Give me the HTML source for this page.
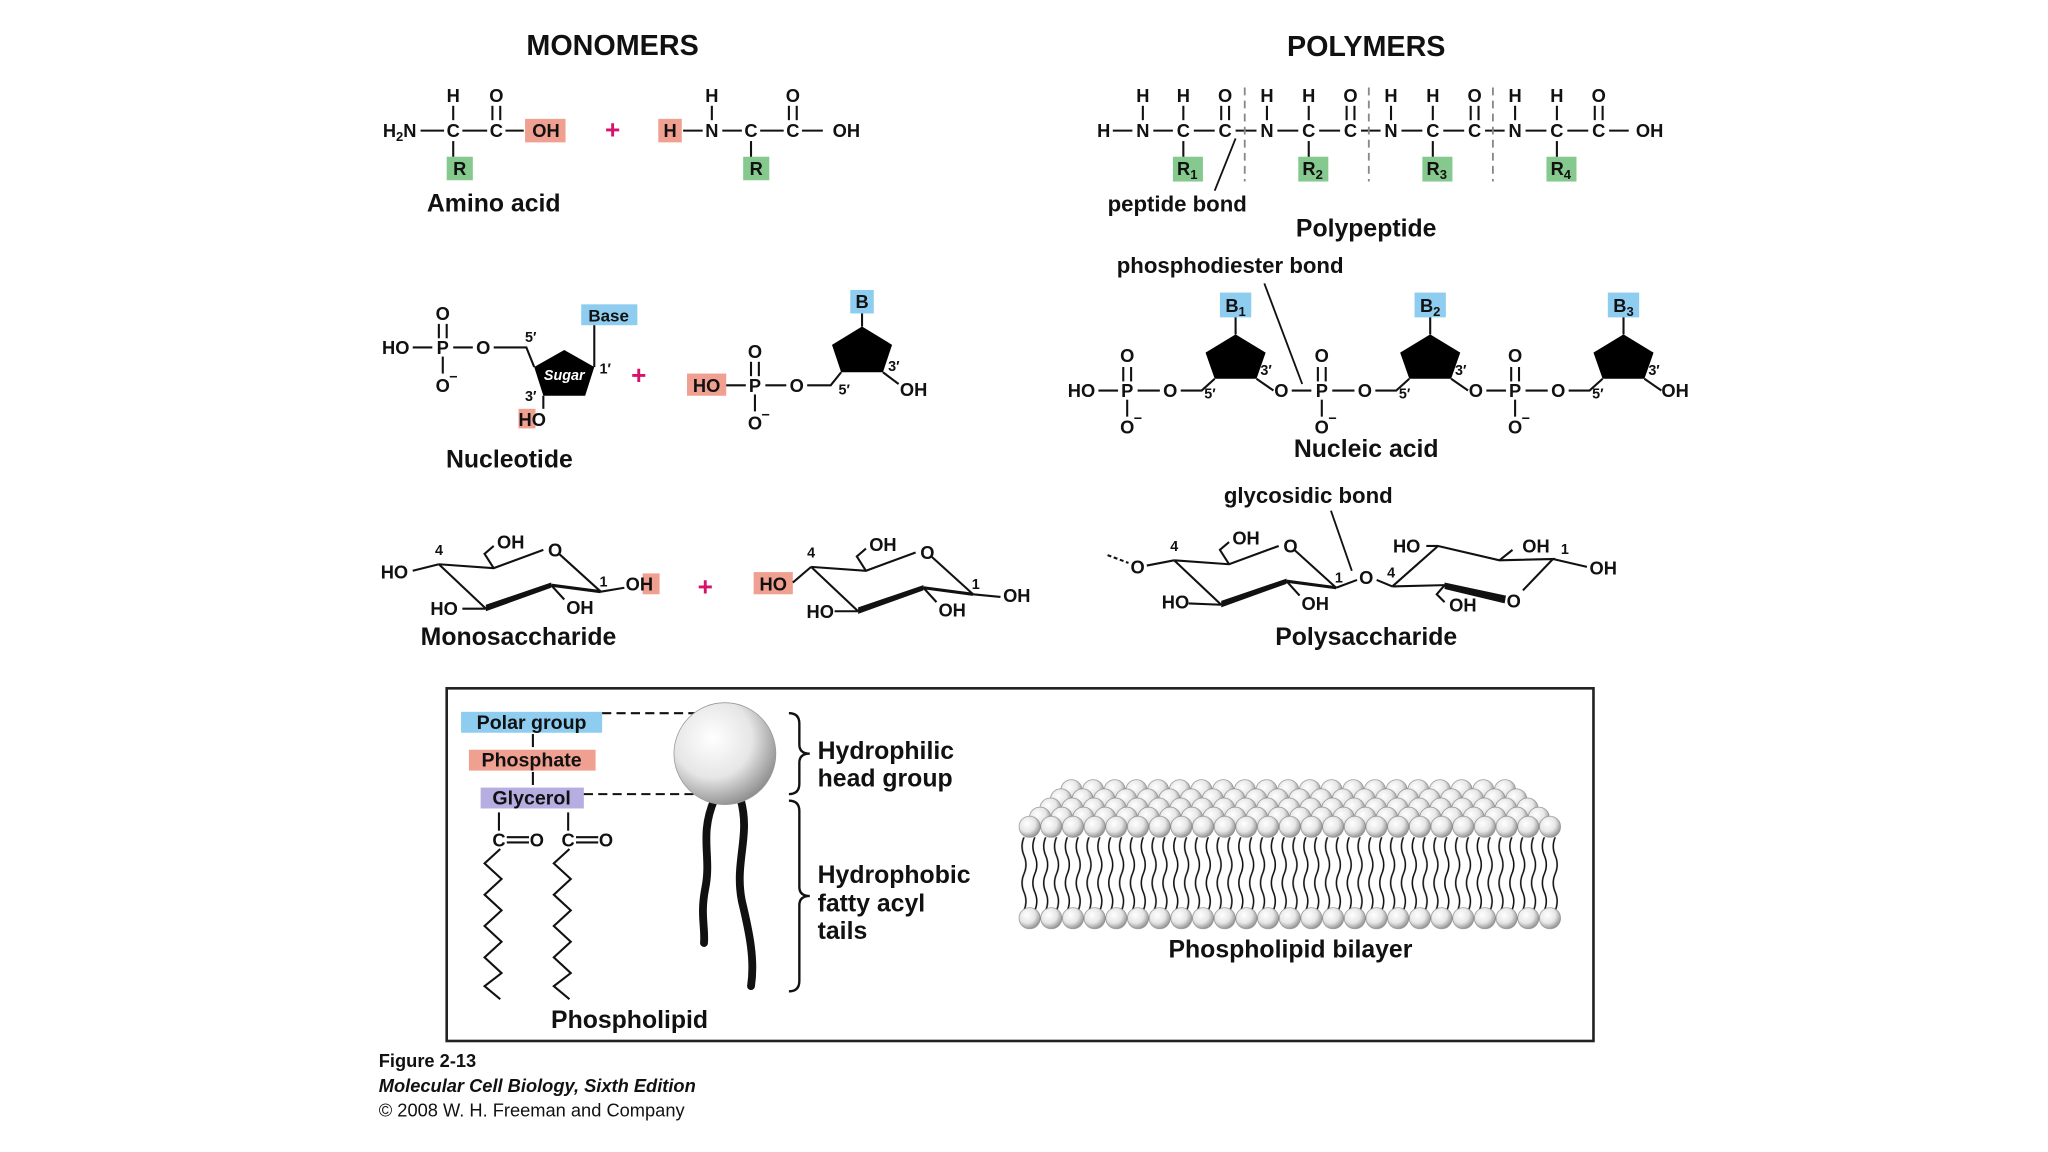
<!DOCTYPE html>
<html><head><meta charset="utf-8">
<style>
html,body{margin:0;padding:0;background:#fff;}
svg{display:block;}
text{font-family:"Liberation Sans",sans-serif;font-weight:bold;fill:#111;}
.a{font-size:14px;text-anchor:middle;}
.s{font-size:11px;}
.lb{font-size:19px;text-anchor:middle;}
.t{font-size:22px;text-anchor:middle;}
</style></head><body>
<svg width="2048" height="1152" viewBox="0 0 1568 882" xmlns="http://www.w3.org/2000/svg">
<defs>
<radialGradient id="ball" cx="0.38" cy="0.35" r="0.7">
<stop offset="0" stop-color="#ffffff"/><stop offset="0.55" stop-color="#e6e6e6"/><stop offset="1" stop-color="#8a8a8a"/>
</radialGradient>
<g id="cell"><circle cx="8.3" cy="8.5" r="8.1" fill="url(#ball)" stroke="#888" stroke-width="0.5"/></g>
<pattern id="r1" width="16.6" height="17" patternUnits="userSpaceOnUse" patternTransform="translate(812,596.5)"><use href="#cell"/></pattern>
<pattern id="r2" width="16.6" height="17" patternUnits="userSpaceOnUse" patternTransform="translate(804,603.5)"><use href="#cell"/></pattern>
<pattern id="r3" width="16.6" height="17" patternUnits="userSpaceOnUse" patternTransform="translate(796,610.5)"><use href="#cell"/></pattern>
<pattern id="r4" width="16.6" height="17" patternUnits="userSpaceOnUse" patternTransform="translate(788,617.5)"><use href="#cell"/></pattern>
<pattern id="r5" width="16.6" height="17" patternUnits="userSpaceOnUse" patternTransform="translate(780,624.5)"><use href="#cell"/></pattern>
<pattern id="r6" width="16.6" height="17" patternUnits="userSpaceOnUse" patternTransform="translate(780,694.5)"><use href="#cell"/></pattern>
<pattern id="tail" width="8.3" height="56" patternUnits="userSpaceOnUse" patternTransform="translate(780,641)">
<path d="M4 0 q-3 7 0 14 t0 14 t0 14 t0 14" fill="none" stroke="#111" stroke-width="1.2"/>
</pattern>
</defs>

<!-- Titles -->
<text class="t" x="469" y="42">MONOMERS</text>
<text class="t" x="1046" y="43">POLYMERS</text>

<!-- Amino acid monomers -->
<rect x="402" y="91" width="31" height="18" fill="#f0a090"/>
<rect x="504" y="91" width="18" height="18" fill="#f0a090"/>
<rect x="342" y="120" width="20" height="18" fill="#86c98e"/>
<rect x="569" y="120" width="20" height="18" fill="#86c98e"/>
<g stroke="#111" stroke-width="1.6">
<line x1="322" y1="100" x2="340" y2="100"/><line x1="354" y1="100" x2="373" y2="100"/><line x1="387" y1="100" x2="401" y2="100"/>
<line x1="347" y1="81" x2="347" y2="92"/><line x1="377" y1="81" x2="377" y2="92"/><line x1="383" y1="81" x2="383" y2="92"/>
<line x1="347" y1="108" x2="347" y2="120"/>
<line x1="523" y1="100" x2="538" y2="100"/><line x1="553" y1="100" x2="568" y2="100"/><line x1="582" y1="100" x2="600" y2="100"/><line x1="614" y1="100" x2="630" y2="100"/>
<line x1="545" y1="81" x2="545" y2="92"/><line x1="604" y1="81" x2="604" y2="92"/><line x1="610" y1="81" x2="610" y2="92"/>
<line x1="575" y1="108" x2="575" y2="120"/>
</g>
<text class="a" x="306" y="105">H<tspan font-size="10" dy="3">2</tspan><tspan dy="-3">N</tspan></text>
<text class="a" x="347" y="105">C</text><text class="a" x="380" y="105">C</text><text class="a" x="418" y="105">OH</text>
<text class="a" x="347" y="78">H</text><text class="a" x="380" y="78">O</text>
<text class="a" x="352" y="134">R</text>
<text class="a" x="469" y="106" style="fill:#d6136b;font-size:20px">+</text>
<text class="a" x="513" y="105">H</text><text class="a" x="545" y="105">N</text><text class="a" x="575" y="105">C</text><text class="a" x="607" y="105">C</text><text class="a" x="648" y="105">OH</text>
<text class="a" x="545" y="78">H</text><text class="a" x="607" y="78">O</text>
<text class="a" x="579" y="134">R</text>
<text class="lb" x="378" y="162">Amino acid</text>

<!-- Polypeptide -->
<g fill="#86c98e"><rect x="898" y="120" width="23" height="19"/><rect x="994" y="120" width="23" height="19"/><rect x="1089" y="120" width="23" height="19"/><rect x="1184" y="120" width="23" height="19"/></g>
<g stroke="#111" stroke-width="1.6">
<line x1="852" y1="100" x2="867" y2="100"/>
<line x1="883" y1="100" x2="898" y2="100"/><line x1="914" y1="100" x2="930" y2="100"/><line x1="946" y1="100" x2="962" y2="100"/>
<line x1="978" y1="100" x2="994" y2="100"/><line x1="1010" y1="100" x2="1026" y2="100"/><line x1="1042" y1="100" x2="1057" y2="100"/>
<line x1="1073" y1="100" x2="1089" y2="100"/><line x1="1105" y1="100" x2="1121" y2="100"/><line x1="1137" y1="100" x2="1152" y2="100"/>
<line x1="1168" y1="100" x2="1184" y2="100"/><line x1="1200" y1="100" x2="1216" y2="100"/><line x1="1232" y1="100" x2="1247" y2="100"/>
<line x1="875" y1="81" x2="875" y2="92"/><line x1="906" y1="81" x2="906" y2="92"/><line x1="935" y1="81" x2="935" y2="92"/><line x1="941" y1="81" x2="941" y2="92"/>
<line x1="970" y1="81" x2="970" y2="92"/><line x1="1002" y1="81" x2="1002" y2="92"/><line x1="1031" y1="81" x2="1031" y2="92"/><line x1="1037" y1="81" x2="1037" y2="92"/>
<line x1="1065" y1="81" x2="1065" y2="92"/><line x1="1097" y1="81" x2="1097" y2="92"/><line x1="1126" y1="81" x2="1126" y2="92"/><line x1="1132" y1="81" x2="1132" y2="92"/>
<line x1="1160" y1="81" x2="1160" y2="92"/><line x1="1192" y1="81" x2="1192" y2="92"/><line x1="1221" y1="81" x2="1221" y2="92"/><line x1="1227" y1="81" x2="1227" y2="92"/>
<line x1="906" y1="108" x2="906" y2="120"/><line x1="1002" y1="108" x2="1002" y2="120"/><line x1="1097" y1="108" x2="1097" y2="120"/><line x1="1192" y1="108" x2="1192" y2="120"/>
<line x1="946" y1="106" x2="930" y2="146" stroke-width="1.4"/>
</g>
<g stroke="#888" stroke-width="1.4" stroke-dasharray="6,4">
<line x1="953" y1="67" x2="953" y2="139"/><line x1="1048" y1="67" x2="1048" y2="139"/><line x1="1143" y1="67" x2="1143" y2="139"/>
</g>
<text class="a" x="845" y="105">H</text>
<text class="a" x="875" y="105">N</text><text class="a" x="906" y="105">C</text><text class="a" x="938" y="105">C</text>
<text class="a" x="970" y="105">N</text><text class="a" x="1002" y="105">C</text><text class="a" x="1034" y="105">C</text>
<text class="a" x="1065" y="105">N</text><text class="a" x="1097" y="105">C</text><text class="a" x="1129" y="105">C</text>
<text class="a" x="1160" y="105">N</text><text class="a" x="1192" y="105">C</text><text class="a" x="1224" y="105">C</text>
<text class="a" x="1263" y="105">OH</text>
<text class="a" x="875" y="78">H</text><text class="a" x="906" y="78">H</text><text class="a" x="938" y="78">O</text>
<text class="a" x="970" y="78">H</text><text class="a" x="1002" y="78">H</text><text class="a" x="1034" y="78">O</text>
<text class="a" x="1065" y="78">H</text><text class="a" x="1097" y="78">H</text><text class="a" x="1129" y="78">O</text>
<text class="a" x="1160" y="78">H</text><text class="a" x="1192" y="78">H</text><text class="a" x="1224" y="78">O</text>
<text class="a" x="909" y="134">R<tspan font-size="10" dy="3">1</tspan></text>
<text class="a" x="1005" y="134">R<tspan font-size="10" dy="3">2</tspan></text>
<text class="a" x="1100" y="134">R<tspan font-size="10" dy="3">3</tspan></text>
<text class="a" x="1195" y="134">R<tspan font-size="10" dy="3">4</tspan></text>
<text x="848" y="162" style="font-size:17px">peptide bond</text>
<text class="lb" x="1046" y="181">Polypeptide</text>

<!-- Nucleotide monomers -->
<rect x="445" y="233" width="43" height="16" fill="#8ecdf0"/>
<rect x="397" y="313" width="13" height="15" fill="#f0a090"/>
<rect x="526" y="286" width="30" height="17" fill="#f0a090"/>
<rect x="651" y="222" width="18" height="18" fill="#8ecdf0"/>
<polygon points="432,268 455,281 448,303 416,303 409,281" fill="#000"/>
<polygon points="660,250 683,264 676,285 644,285 637,264" fill="#000"/>
<g stroke="#111" stroke-width="1.6" fill="none">
<line x1="316" y1="266" x2="331" y2="266"/><line x1="347" y1="266" x2="362" y2="266"/><polyline points="378,266 403,266 409,281"/>
<line x1="336" y1="248" x2="336" y2="259"/><line x1="342" y1="248" x2="342" y2="259"/><line x1="339" y1="273" x2="339" y2="286"/>
<line x1="455" y1="249" x2="455" y2="281"/><line x1="416" y1="303" x2="416" y2="313"/>
<line x1="556" y1="295" x2="571" y2="295"/><line x1="586" y1="295" x2="602" y2="295"/><polyline points="618,295 636,295 644,285"/>
<line x1="575" y1="277" x2="575" y2="288"/><line x1="581" y1="277" x2="581" y2="288"/><line x1="578" y1="302" x2="578" y2="315"/>
<line x1="660" y1="240" x2="660" y2="250"/><line x1="676" y1="285" x2="688" y2="294"/>
</g>
<text class="a" x="303" y="271">HO</text><text class="a" x="339" y="271">P</text><text class="a" x="370" y="271">O</text>
<text class="a" x="339" y="245">O</text><text class="a" x="339" y="300">O</text><text x="344" y="292" class="s">−</text>
<text class="s" x="402" y="262">5′</text><text class="s" x="459" y="286">1′</text><text class="s" x="402" y="307">3′</text>
<text x="432" y="291" style="fill:#fff;font-size:11px;font-style:italic;text-anchor:middle">Sugar</text>
<text class="a" x="466" y="246" style="font-size:13px">Base</text>
<text x="397" y="326" style="font-size:14px">HO</text>
<text class="a" x="489" y="294" style="fill:#d6136b;font-size:20px">+</text>
<text class="a" x="541" y="300">HO</text><text class="a" x="578" y="300">P</text><text class="a" x="610" y="300">O</text>
<text class="a" x="578" y="274">O</text><text class="a" x="578" y="329">O</text><text x="583" y="321" class="s">−</text>
<text class="a" x="660" y="236">B</text>
<text class="s" x="642" y="302">5′</text><text class="s" x="680" y="284">3′</text><text x="689" y="303" style="font-size:14px">OH</text>
<text class="lb" x="390" y="358">Nucleotide</text>

<!-- Nucleic acid -->
<text x="855" y="209" style="font-size:17px">phosphodiester bond</text>
<line x1="968" y1="217" x2="997" y2="294" stroke="#111" stroke-width="1.4"/>
<text class="a" x="828" y="304">HO</text>
<line x1="841" y1="299" x2="856" y2="299" stroke="#111" stroke-width="1.6"/>
<g id="nu">
<rect x="934" y="224" width="24" height="19" fill="#8ecdf0"/>
<polygon points="946,256 969,270 962,290 930,290 923,270" fill="#000"/>
<g stroke="#111" stroke-width="1.6" fill="none">
<line x1="871" y1="299" x2="888" y2="299"/><polyline points="904,299 920,299 930,290"/>
<line x1="860" y1="281" x2="860" y2="292"/><line x1="866" y1="281" x2="866" y2="292"/><line x1="863" y1="306" x2="863" y2="319"/>
<line x1="946" y1="243" x2="946" y2="256"/><line x1="962" y1="290" x2="975" y2="299"/>
</g>
<text class="a" x="863" y="304">P</text><text class="a" x="896" y="304">O</text>
<text class="a" x="863" y="277">O</text><text class="a" x="863" y="332">O</text><text x="868" y="324" class="s">−</text>
<text class="s" x="922" y="305">5′</text><text class="s" x="965" y="287">3′</text>
</g>
<text class="a" x="946" y="239">B<tspan font-size="10" dy="3">1</tspan></text>
<text class="a" x="981" y="304">O</text>
<line x1="989" y1="299" x2="1004" y2="299" stroke="#111" stroke-width="1.6"/>
<use href="#nu" x="149"/>
<text class="a" x="1095" y="239">B<tspan font-size="10" dy="3">2</tspan></text>
<text class="a" x="1130" y="304">O</text>
<line x1="1138" y1="299" x2="1153" y2="299" stroke="#111" stroke-width="1.6"/>
<use href="#nu" x="297"/>
<text class="a" x="1243" y="239">B<tspan font-size="10" dy="3">3</tspan></text>
<text x="1272" y="304" style="font-size:14px">OH</text>
<text class="lb" x="1046" y="350">Nucleic acid</text>

<!-- Monosaccharides -->
<g id="ring">
<g stroke="#111" stroke-width="1.6" fill="none">
<polyline points="336,432 378,435 416,421"/>
<polyline points="428,424 460,453"/>
<line x1="336" y1="432" x2="372" y2="466"/>
<polygon points="372,463 422,446 422,450 372,468" fill="#111" stroke="none"/>
<line x1="422" y1="448" x2="460" y2="453" stroke-width="2.4"/>
<polyline points="378,435 371,424 378,418"/>
<line x1="422" y1="448" x2="432" y2="459"/>
</g>
<text class="a" x="425" y="426">O</text>
<text class="a" x="391" y="420">OH</text>
<text class="a" x="444" y="470">OH</text>
<text class="s" x="333" y="425">4</text>
<text class="s" x="459" y="449">1</text>
</g>
<line x1="316" y1="437" x2="336" y2="432" stroke="#111" stroke-width="1.6"/>
<line x1="354" y1="466" x2="372" y2="466" stroke="#111" stroke-width="1.6"/>
<line x1="460" y1="453" x2="478" y2="450" stroke="#111" stroke-width="1.6"/>
<text class="a" x="302" y="443">HO</text><text class="a" x="340" y="471">HO</text>
<rect x="492" y="439" width="13" height="16" fill="#f0a090"/>
<text x="479" y="452" style="font-size:14px">OH</text>
<text class="a" x="540" y="456" style="fill:#d6136b;font-size:20px">+</text>
<use href="#ring" x="285" y="2"/>
<rect x="577" y="438" width="30" height="17" fill="#f0a090"/>
<text class="a" x="592" y="452">HO</text>
<g stroke="#111" stroke-width="1.6"><line x1="607" y1="446" x2="621" y2="434"/><line x1="639" y1="468" x2="657" y2="468"/><line x1="745" y1="455" x2="766" y2="457"/></g>
<text class="a" x="628" y="473">HO</text><text x="768" y="461" style="font-size:14px">OH</text>
<text class="lb" x="397" y="494">Monosaccharide</text>

<!-- Polysaccharide -->
<text x="937" y="385" style="font-size:17px">glycosidic bond</text>
<line x1="1019" y1="391" x2="1035" y2="437" stroke="#111" stroke-width="1.4"/>
<use href="#ring" x="563" y="-3"/>
<g stroke="#111" stroke-width="1.6" fill="none">
<line x1="848" y1="425" x2="864" y2="431" stroke-dasharray="3,2"/>
<line x1="878" y1="433" x2="899" y2="429"/>
<line x1="910" y1="462" x2="935" y2="463"/>
<line x1="1023" y1="450" x2="1039" y2="444"/>
<line x1="1054" y1="444" x2="1066" y2="449"/>
<polyline points="1066,449 1101,418 1148,429 1189,428 1166,452"/>
<polygon points="1106,446 1153,456 1152,462 1106,451" fill="#111" stroke="none"/>
<line x1="1066" y1="449" x2="1106" y2="448"/>
<line x1="1092" y1="418" x2="1101" y2="418"/>
<line x1="1148" y1="429" x2="1158" y2="421"/>
<line x1="1189" y1="428" x2="1215" y2="434"/>
<polyline points="1106,448 1100,455 1106,461"/>
</g>
<text class="a" x="871" y="439">O</text>
<text class="a" x="900" y="466">HO</text>
<text class="a" x="1046" y="447">O</text>
<text class="s" x="1062" y="442">4</text>
<text class="a" x="1077" y="423">HO</text>
<text class="a" x="1176" y="423">OH</text>
<text class="s" x="1195" y="424">1</text>
<text x="1217" y="440" style="font-size:14px">OH</text>
<text class="a" x="1120" y="468">OH</text>
<text class="a" x="1159" y="465">O</text>
<text class="lb" x="1046" y="494">Polysaccharide</text>

<!-- Phospholipid box -->
<rect x="342" y="527" width="878" height="270" fill="none" stroke="#222" stroke-width="2"/>
<rect x="353" y="545" width="108" height="16" fill="#8ecdf0"/>
<rect x="359" y="574" width="97" height="16" fill="#f0a090"/>
<rect x="368" y="603" width="79" height="16" fill="#b6aee0"/>
<text class="a" x="407" y="558" style="font-size:15px">Polar group</text>
<text class="a" x="407" y="587" style="font-size:15px">Phosphate</text>
<text class="a" x="407" y="616" style="font-size:15px">Glycerol</text>
<g stroke="#111" stroke-width="1.6" fill="none">
<line x1="408" y1="562" x2="408" y2="572"/><line x1="408" y1="591" x2="408" y2="601"/>
<line x1="461" y1="546" x2="538" y2="546" stroke-dasharray="7,4"/>
<line x1="447" y1="608" x2="540" y2="608" stroke-dasharray="7,4"/>
<line x1="382" y1="622" x2="382" y2="636"/><line x1="435" y1="622" x2="435" y2="636"/>
<line x1="388" y1="641" x2="405" y2="641"/><line x1="388" y1="645" x2="405" y2="645"/>
<line x1="441" y1="641" x2="458" y2="641"/><line x1="441" y1="645" x2="458" y2="645"/>
<polyline points="383,650 371,661 384,673 371,685 384,697 371,709 384,721 371,733 384,745 371,755 383,765"/>
<polyline points="436,650 424,661 437,673 424,685 437,697 424,709 437,721 424,733 437,745 424,755 436,765"/>
<path d="M547 612 C 535 640, 545 655, 540 680 C 536 700, 540 710, 539 722" stroke-width="6" stroke-linecap="round"/>
<path d="M567 612 C 575 640, 562 660, 568 690 C 574 715, 578 735, 575 755" stroke-width="6" stroke-linecap="round"/>
<path d="M604 546 q8 0 8 8 v16 q0 7 8 7 q-8 0 -8 7 v16 q0 8 -8 8" stroke-width="1.8"/>
<path d="M604 613 q8 0 8 8 v58 q0 7 8 7 q-8 0 -8 7 v58 q0 8 -8 8" stroke-width="1.8"/>
</g>
<circle cx="555" cy="577" r="39" fill="url(#ball)" stroke="#999" stroke-width="0.6"/>
<text x="382" y="648" class="a">C</text><text x="411" y="648" class="a">O</text>
<text x="435" y="648" class="a">C</text><text x="464" y="648" class="a">O</text>
<g style="font-size:19px">
<text x="626" y="581">Hydrophilic</text><text x="626" y="602">head group</text>
<text x="626" y="676">Hydrophobic</text><text x="626" y="698">fatty acyl</text><text x="626" y="719">tails</text>
</g>
<text class="lb" x="482" y="787">Phospholipid</text>

<!-- Bilayer -->
<rect x="780" y="641" width="415" height="56" fill="url(#tail)"/>
<rect x="780" y="694.5" width="415" height="17" fill="url(#r6)"/>
<rect x="812" y="596.5" width="348.6" height="17" fill="url(#r1)"/>
<rect x="804" y="603.5" width="365.2" height="17" fill="url(#r2)"/>
<rect x="796" y="610.5" width="381.8" height="17" fill="url(#r3)"/>
<rect x="788" y="617.5" width="398.4" height="17" fill="url(#r4)"/>
<rect x="780" y="624.5" width="415" height="17" fill="url(#r5)"/>
<text class="lb" x="988" y="733">Phospholipid bilayer</text>

<!-- Footer -->
<text x="290" y="817" style="font-size:14px">Figure 2-13</text>
<text x="290" y="836" style="font-size:14px;font-style:italic">Molecular Cell Biology, Sixth Edition</text>
<text x="290" y="855" style="font-size:14px;font-weight:normal">© 2008 W. H. Freeman and Company</text>
</svg>
</body></html>
